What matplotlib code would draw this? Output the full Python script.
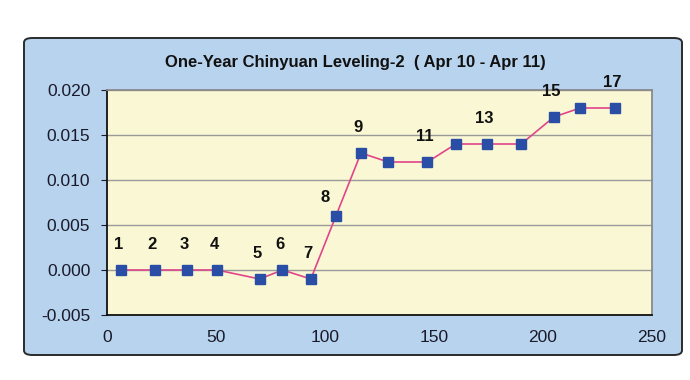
import matplotlib.pyplot as plt
from matplotlib.patches import FancyBboxPatch

plt.rcParams['font.family'] = ['Liberation Sans', 'DejaVu Sans']

# data
x_vals = [6.5, 22, 36.5, 50.5, 70, 80.5, 93.5, 105, 116.5, 129, 147, 160, 174.5, 190, 205, 217, 233]
y_vals = [0.0, 0.0, 0.0, 0.0, -0.001, 0.0, -0.001, 0.006, 0.013, 0.012, 0.012,
          0.014, 0.014, 0.014, 0.017, 0.018, 0.018]
point_ids = list(range(1, 18))
shown_ids = [1, 2, 3, 4, 5, 6, 7, 8, 9, 11, 13, 15, 17]
title = "One-Year Chinyuan Leveling-2  ( Apr 10 - Apr 11)"

fig = plt.figure(figsize=(6.9, 3.8), dpi=100)
fig.patch.set_facecolor("white")

# light blue chart frame
frame = FancyBboxPatch((24 / 690, 25 / 380), 658 / 690, 317 / 380,
                       boxstyle="round,pad=0,rounding_size=0.012",
                       transform=fig.transFigure, facecolor="#B8D3EE",
                       edgecolor="#2b2b2b", linewidth=1.4, zorder=-1)
fig.patches.append(frame)

ax = fig.add_axes([107 / 690, 65 / 380, 545 / 690, 225 / 380])
ax.set_zorder(1)
ax.set_facecolor("#FAF8D4")

ax.plot(x_vals, y_vals, color="#E0458A", linewidth=1.2, zorder=2)
ax.plot(x_vals, y_vals, linestyle="none", marker="s", markersize=7,
        color="#2A4EA6", zorder=3)

for i, x, y in zip(point_ids, x_vals, y_vals):
    if i not in shown_ids:
        continue
    dx = -8 if i == 8 else -2
    dy = 8 if i == 8 else 13
    ax.annotate(str(i), (x, y), xytext=(dx, dy), textcoords="offset points",
                ha="center", va="bottom", fontsize=12, fontweight="bold",
                color="#111111")

ax.set_xlim(0, 250)
ax.set_ylim(-0.005, 0.020)
ax.set_xticks([0, 50, 100, 150, 200, 250])
ax.set_yticks([-0.005, 0.0, 0.005, 0.010, 0.015, 0.020])
ax.set_yticklabels(["-0.005", "0.000", "0.005", "0.010", "0.015", "0.020"])
ax.yaxis.grid(True, color="#9a9a9a", linewidth=1)
ax.set_axisbelow(True)
ax.tick_params(axis="both", labelsize=12.5, colors="#1a1a2a", length=4)
ax.tick_params(axis="x", length=0, pad=11)
ax.tick_params(axis="y", pad=8)

for s in ["left", "bottom"]:
    ax.spines[s].set_color("#111111")
    ax.spines[s].set_linewidth(1.3)
for s in ["top", "right"]:
    ax.spines[s].set_color("#8a8a8a")
    ax.spines[s].set_linewidth(1.3)

fig.text(355 / 690, 1 - 62 / 380, title, ha="center", va="center",
         fontsize=12, fontweight="bold", color="#111111")

fig.savefig("out.png", dpi=100)
